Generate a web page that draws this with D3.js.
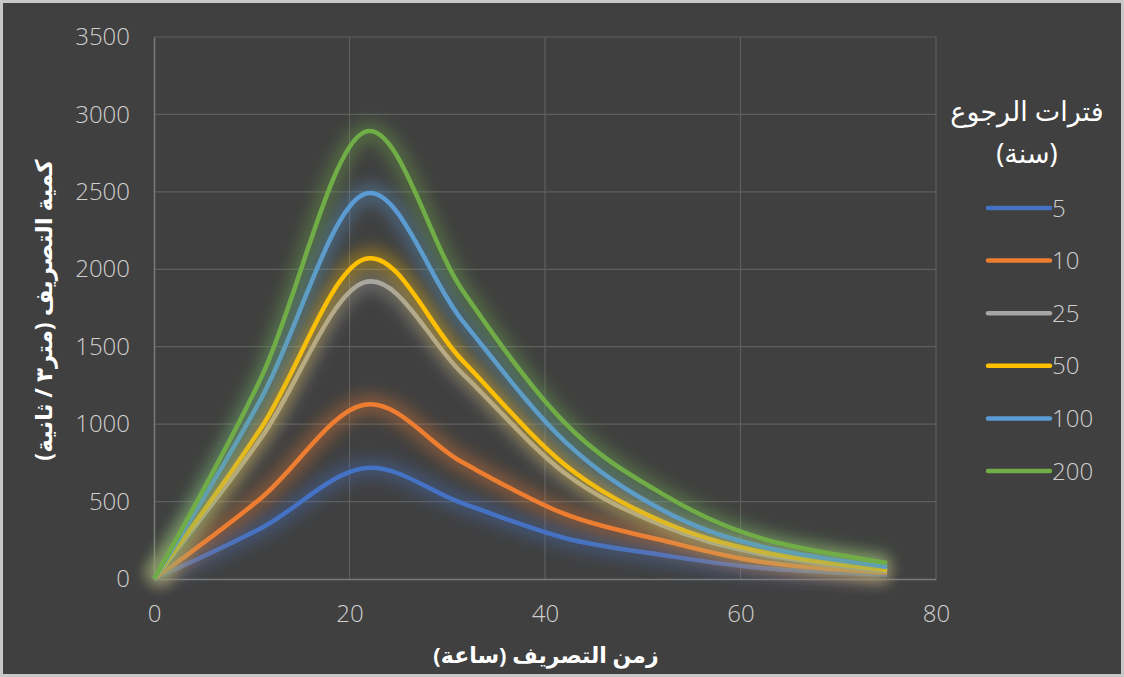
<!DOCTYPE html>
<html lang="ar">
<head>
<meta charset="utf-8">
<script src="https://cdn.jsdelivr.net/npm/d3@7"></script>
<style>
  html, body { margin: 0; padding: 0; background: #404040; }
  svg { display: block; }
</style>
</head>
<body>
<svg id="chart" width="1124" height="677"></svg>
<script>
// Flood hydrographs for several return periods
const hours = [0, 11, 21.5, 31.5, 42, 52, 62, 75];
const q5   = [0, 330, 715, 490, 265, 155, 72, 27];
const q10  = [0, 525, 1125, 755, 420, 250, 112, 40];
const q25  = [0, 915, 1915, 1330, 685, 346, 163, 50];
const q50  = [0, 980, 2065, 1414, 740, 371, 178, 58];
const q100 = [0, 1170, 2485, 1672, 890, 445, 212, 78];
const q200 = [0, 1305, 2885, 1870, 1010, 550, 265, 103];
const returnPeriods = ["5", "10", "25", "50", "100", "200"];
const seriesColors = ["#4472C4", "#ED7D31", "#A5A5A5", "#FFC000", "#5B9BD5", "#70AD47"];
const xTicks = [0, 20, 40, 60, 80];
const yTicks = [0, 500, 1000, 1500, 2000, 2500, 3000, 3500];

const xTitle = "زمن التصريف (ساعة)";
const yTitle = "كمية التصريف (متر٣ / ثانية)";
const legendTitle = ["فترات الرجوع", "(سنة)"];

const seriesValues = [q5, q10, q25, q50, q100, q200];
const series = returnPeriods.map((name, i) => ({
  name,
  color: seriesColors[i],
  points: hours.map((h, j) => ({ t: h, q: seriesValues[i][j] }))
}));

const W = 1124, H = 677;
const svg = d3.select("#chart");
const numFont = "'Open Sans', 'Liberation Sans', sans-serif";
const arFont = "'Noto Sans', 'DejaVu Sans', sans-serif";

// chart frame
svg.append("rect")
  .attr("x", 1.5).attr("y", 1.5)
  .attr("width", W - 3).attr("height", H - 3)
  .attr("fill", "#404040")
  .attr("stroke", "#c8c8c8").attr("stroke-width", 3);

const x = d3.scaleLinear().domain([0, 80]).range([154, 936]);
const y = d3.scaleLinear().domain([0, 3500]).range([579, 37]);

// soft glow behind each line
const defs = svg.append("defs");
const glow = defs.append("filter").attr("id", "glow")
  .attr("x", "-20%").attr("y", "-20%").attr("width", "140%").attr("height", "140%");
glow.append("feGaussianBlur").attr("stdDeviation", 8);

// gridlines
const grid = svg.append("g").attr("class", "grid");
grid.selectAll("line.h").data(yTicks.slice(1)).join("line")
  .attr("x1", x(0)).attr("x2", x(80))
  .attr("y1", d => y(d)).attr("y2", d => y(d))
  .attr("stroke", "#5e5e5e").attr("stroke-width", 1.2);
grid.selectAll("line.v").data(xTicks.slice(1)).join("line")
  .attr("y1", y(0)).attr("y2", y(3500))
  .attr("x1", d => x(d)).attr("x2", d => x(d))
  .attr("stroke", "#5e5e5e").attr("stroke-width", 1.2);

// axes
const xAxis = d3.axisBottom(x).tickValues(xTicks).tickFormat(d3.format("d")).tickSize(0).tickPadding(31);
const yAxis = d3.axisLeft(y).tickValues(yTicks).tickFormat(d3.format("d")).tickSize(0).tickPadding(24);

const gx = svg.append("g").attr("transform", `translate(0,${y(0)})`).call(xAxis);
const gy = svg.append("g").attr("transform", `translate(${x(0)},0)`).call(yAxis);
[gx, gy].forEach(g => {
  g.select(".domain").attr("stroke", "#7a7a7a").attr("stroke-width", 1.5);
  g.selectAll("text")
    .attr("fill", "#cfcfcf")
    .style("font-family", numFont)
    .style("font-weight", 300)
    .style("font-size", "24px");
});
gx.selectAll("text").attr("dy", "0.5em");

// hydrograph lines
const line = d3.line()
  .x(d => x(d.t))
  .y(d => y(d.q))
  .curve(d3.curveCardinal.tension(0));

const plot = svg.append("g");
series.forEach(s => {
  plot.append("path")
    .attr("d", line(s.points))
    .attr("fill", "none")
    .attr("stroke", s.color)
    .attr("stroke-width", 18)
    .attr("stroke-opacity", 0.4)
    .attr("filter", "url(#glow)");
  plot.append("path")
    .attr("d", line(s.points))
    .attr("fill", "none")
    .attr("stroke", s.color)
    .attr("stroke-width", 4.5)
    .attr("stroke-linejoin", "round");
});

// axis titles
svg.append("text")
  .attr("x", 546).attr("y", 663)
  .attr("text-anchor", "middle")
  .attr("fill", "#ffffff")
  .style("font-family", arFont)
  .style("font-weight", "bold")
  .style("font-size", "22px")
  .attr("direction", "rtl")
  .text(xTitle);

svg.append("text")
  .attr("transform", `translate(52,310) rotate(-90)`)
  .attr("text-anchor", "middle")
  .attr("fill", "#ffffff")
  .style("font-family", arFont)
  .style("font-weight", "bold")
  .style("font-size", "23px")
  .attr("direction", "rtl")
  .text(yTitle);

// legend
const legend = svg.append("g");
legend.selectAll("text.title").data(legendTitle).join("text")
  .attr("x", 1027).attr("y", (d, i) => 121 + i * 42)
  .attr("text-anchor", "middle")
  .attr("fill", "#ffffff")
  .style("font-family", arFont)
  .style("font-size", "27px")
  .attr("direction", "rtl")
  .text(d => d);

const ly = d3.scalePoint().domain(returnPeriods).range([208, 471]);
const items = legend.selectAll("g.item").data(series).join("g")
  .attr("transform", d => `translate(0,${ly(d.name)})`);
items.append("line")
  .attr("x1", 988).attr("x2", 1050)
  .attr("stroke", d => d.color).attr("stroke-width", 4.5)
  .attr("stroke-linecap", "round");
items.append("text")
  .attr("x", 1052).attr("y", 0).attr("dy", "0.36em")
  .attr("fill", "#cfcfcf")
  .style("font-family", numFont)
  .style("font-weight", 300)
  .style("font-size", "24px")
  .text(d => d.name);
</script>
</body>
</html>
